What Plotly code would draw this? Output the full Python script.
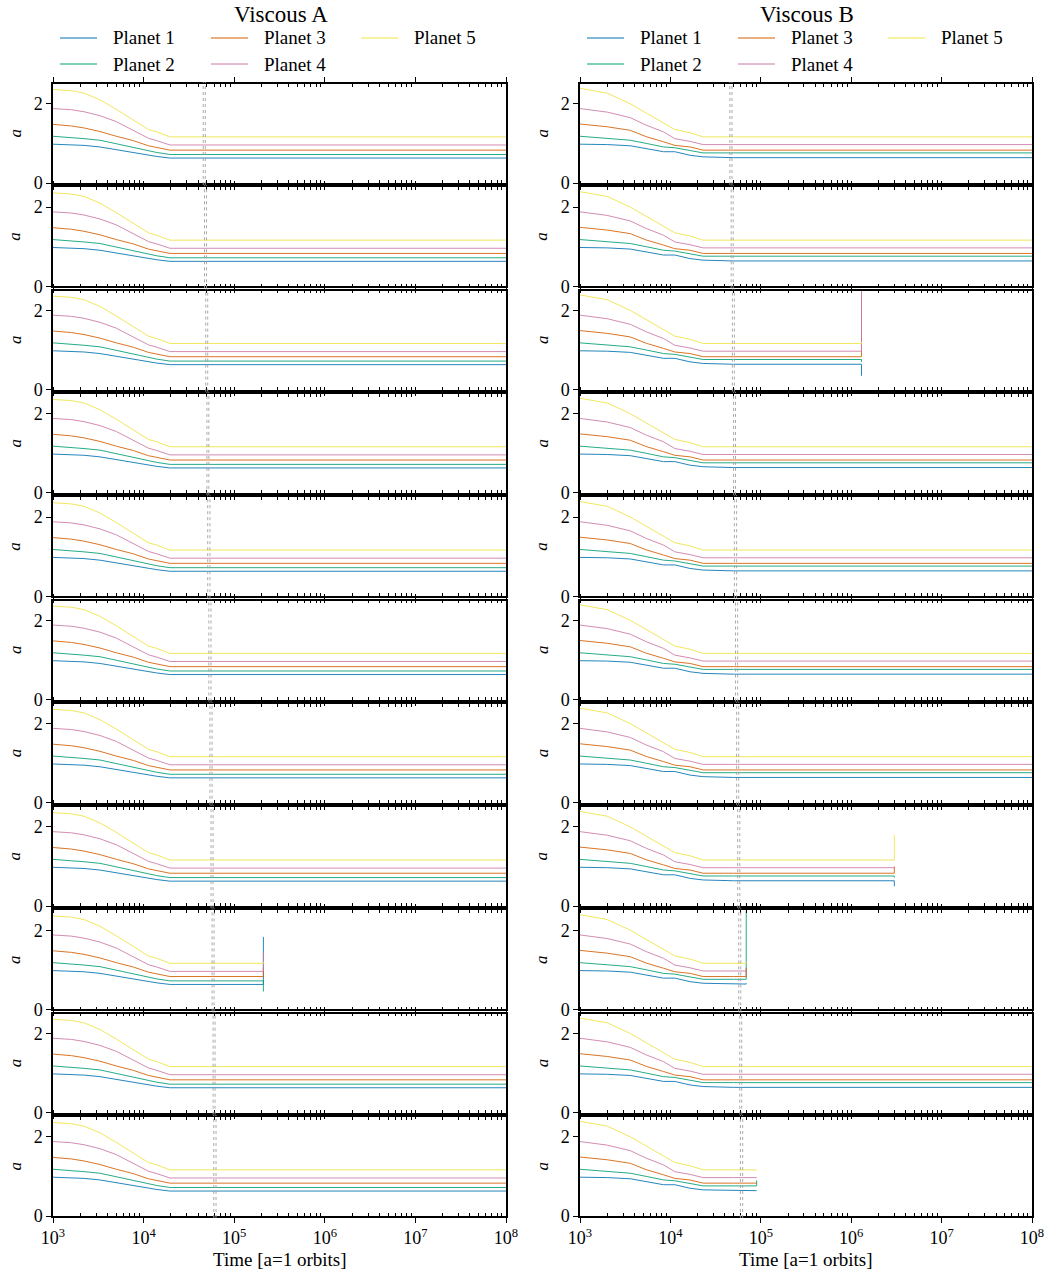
import plotly.graph_objects as go
from plotly.subplots import make_subplots

W, H = 1051, 1276
FONT = "Liberation Serif"

planet_names = ["Planet 1", "Planet 2", "Planet 3", "Planet 4", "Planet 5"]
colors = ["#0072B2", "#009E73", "#D55E00", "#CC79A7", "#F0E442"]
column_titles = ["Viscous A", "Viscous B"]

# Semi-major axis evolution (Viscous A)
time_A = [1e3, 1.6e3, 2.2e3, 3.3e3, 5e3, 7.7e3, 1.13e4, 1.4e4, 1.95e4, 1e8]
p1_A = [0.98, 0.97, 0.95, 0.91, 0.84, 0.77, 0.70, 0.67, 0.63, 0.63]
p2_A = [1.18, 1.15, 1.12, 1.08, 0.99, 0.91, 0.81, 0.77, 0.72, 0.72]
p3_A = [1.48, 1.44, 1.39, 1.30, 1.18, 1.07, 0.94, 0.90, 0.83, 0.83]
p4_A = [1.88, 1.85, 1.80, 1.70, 1.55, 1.33, 1.13, 1.07, 0.96, 0.96]
p5_A = [2.36, 2.33, 2.27, 2.10, 1.86, 1.58, 1.35, 1.29, 1.165, 1.165]

# Viscous B
time_B = [1e3, 2e3, 3.6e3, 5.4e3, 8.4e3, 1.12e4, 1.65e4, 2.3e4, 5e4, 1e8]
p1_B = [0.98, 0.97, 0.94, 0.87, 0.79, 0.79, 0.70, 0.66, 0.64, 0.64]
p2_B = [1.18, 1.13, 1.08, 1.00, 0.91, 0.89, 0.81, 0.76, 0.76, 0.76]
p3_B = [1.49, 1.42, 1.33, 1.17, 1.04, 0.95, 0.91, 0.83, 0.83, 0.83]
p4_B = [1.88, 1.79, 1.65, 1.46, 1.29, 1.12, 1.05, 0.97, 0.97, 0.97]
p5_B = [2.39, 2.27, 2.00, 1.76, 1.52, 1.35, 1.27, 1.165, 1.165, 1.165]

# End time of each run (rows top to bottom)
end_A = [1e8, 1e8, 1e8, 1e8, 1e8, 1e8, 1e8, 1e8, 2.1e5, 1e8, 1e8]
end_B = [1e8, 1e8, 1.3e6, 1e8, 1e8, 1e8, 1e8, 3e6, 6.9e4, 1e8, 9e4]

# Final excursions at instability (planet 1..5), None = no excursion
spike_A = [None, None, None, None, None, None, None, None,
           [1.83, 0.45, 1.05, 1.45, 1.20], None, None]
spike_B = [None, None, [0.35, 0.70, 3.00, 3.00, 1.20], None, None, None, None,
           [0.50, 0.72, 1.00, 0.95, 1.80], [0.66, 3.00, 1.05, 0.85, 1.20],
           None, [0.64, 0.90, 0.83, 0.97, 1.165]]

# Disc dispersal markers (dotted lines), per row
disc_end_1 = [4.55e4, 4.7e4, 4.85e4, 5.0e4, 5.1e4, 5.25e4, 5.4e4, 5.55e4, 5.7e4, 5.85e4, 5.95e4]
disc_end_2 = [4.8e4, 4.95e4, 5.1e4, 5.25e4, 5.4e4, 5.55e4, 5.7e4, 5.85e4, 6.0e4, 6.15e4, 6.3e4]

x_tickvals = [1e3, 1e4, 1e5, 1e6, 1e7, 1e8]
x_ticktext = ["10<sup>3</sup>", "10<sup>4</sup>", "10<sup>5</sup>",
              "10<sup>6</sup>", "10<sup>7</sup>", "10<sup>8</sup>"]
minor_vals = [m * 10 ** e for e in range(3, 8) for m in range(2, 10)]

NROWS = 11
series = {
    0: (time_A, [p1_A, p2_A, p3_A, p4_A, p5_A], end_A, spike_A),
    1: (time_B, [p1_B, p2_B, p3_B, p4_B, p5_B], end_B, spike_B),
}

fig = make_subplots(rows=NROWS, cols=2)

col_px = [(53, 506), (580, 1032)]
row_top0, row_pitch, row_h = 84, 103.3, 99

def build(t, v, end, spk):
    xs, ys = [], []
    for ti, vi in zip(t, v):
        if ti < end:
            xs.append(ti)
            ys.append(vi)
    xs.append(end)
    ys.append(v[-1])
    if spk is not None:
        xs.append(end)
        ys.append(spk)
    return xs, ys

shapes = []
annotations = []
for c in range(2):
    t, vals, ends, spikes = series[c]
    for r in range(NROWS):
        idx = r * 2 + c + 1
        for p in range(5):
            spk = spikes[r][p] if spikes[r] is not None else None
            xs, ys = build(t, vals[p], ends[r], spk)
            fig.add_trace(go.Scatter(
                x=xs, y=ys, mode="lines", name=planet_names[p],
                line=dict(color=colors[p], width=1),
                opacity=0.85, showlegend=False, hoverinfo="skip"),
                row=r + 1, col=c + 1)
        xa = "xaxis" if idx == 1 else f"xaxis{idx}"
        ya = "yaxis" if idx == 1 else f"yaxis{idx}"
        x0p, x1p = col_px[c]
        top = row_top0 + row_pitch * r
        bot = top + row_h
        fig.layout[xa].update(
            type="log", range=[3, 8], domain=[x0p / W, x1p / W],
            tickvals=x_tickvals, ticktext=x_ticktext,
            showticklabels=(r == NROWS - 1),
            ticks="outside", ticklen=5, tickwidth=1.2, tickcolor="black",
            minor=dict(tickvals=minor_vals, ticks="inside", ticklen=3,
                       tickwidth=1, tickcolor="black"),
            showline=True, linecolor="black", linewidth=1.5, mirror="allticks",
            showgrid=False, zeroline=False, automargin=False,
            tickfont=dict(family=FONT, size=18, color="black"))
        fig.layout[ya].update(
            range=[0, 2.5], domain=[1 - bot / H, 1 - top / H],
            tickvals=[0, 2], ticktext=["0", "2"],
            ticks="outside", ticklen=5, tickwidth=1.2, tickcolor="black",
            showline=True, linecolor="black", linewidth=1.5, mirror=True,
            showgrid=False, zeroline=False, automargin=False,
            tickfont=dict(family=FONT, size=18, color="black"))
        xref = "x" if idx == 1 else f"x{idx}"
        yref = "y domain" if idx == 1 else f"y{idx} domain"
        for dl in (disc_end_1[r], disc_end_2[r]):
            shapes.append(dict(type="line", xref=xref, yref=yref,
                               x0=dl, x1=dl, y0=-0.02, y1=1.02,
                               line=dict(color="#a0a0a0", width=0.9, dash="dot")))
        # y-axis title "a"
        annotations.append(dict(
            text="<i>a</i>", x=(x0p - 38) / W, y=1 - (top + bot) / 2 / H,
            xref="paper", yref="paper", showarrow=False, textangle=-90,
            font=dict(family=FONT, size=17, color="black"),
            xanchor="center", yanchor="middle"))

# Column titles, x-axis titles, legends
legend_layout = [  # (planet index, line x0 offset, row)
    (0, 0, 0), (1, 0, 1), (2, 151, 0), (3, 151, 1), (4, 301, 0)]
for c in range(2):
    x0p, x1p = col_px[c]
    cx = (x0p + x1p) / 2
    annotations.append(dict(
        text=column_titles[c], x=(cx + 1) / W, y=1 - 15 / H,
        xref="paper", yref="paper", showarrow=False,
        font=dict(family=FONT, size=23, color="black"),
        xanchor="center", yanchor="middle"))
    annotations.append(dict(
        text="Time [a=1 orbits]", x=cx / W, y=1 - 1259 / H,
        xref="paper", yref="paper", showarrow=False,
        font=dict(family=FONT, size=19, color="black"),
        xanchor="center", yanchor="middle"))
    base = 60 if c == 0 else 587
    for p, off, row in legend_layout:
        ly = 38 if row == 0 else 64
        lx0 = base + off
        shapes.append(dict(type="line", xref="paper", yref="paper",
                           x0=lx0 / W, x1=(lx0 + 37) / W,
                           y0=1 - ly / H, y1=1 - ly / H,
                           line=dict(color=colors[p], width=1)))
        annotations.append(dict(
            text=planet_names[p], x=(lx0 + 51) / W, y=1 - ly / H,
            xref="paper", yref="paper", showarrow=False,
            font=dict(family=FONT, size=19, color="black"),
            xanchor="left", yanchor="middle"))

fig.update_layout(
    width=W, height=H, margin=dict(l=0, r=0, t=0, b=0),
    paper_bgcolor="white", plot_bgcolor="white",
    showlegend=False, shapes=shapes, annotations=annotations,
    font=dict(family=FONT, color="black"))

fig.write_html("out.html", config={"displayModeBar": False},
               post_script="document.body.style.margin='0';document.body.style.padding='0';")
